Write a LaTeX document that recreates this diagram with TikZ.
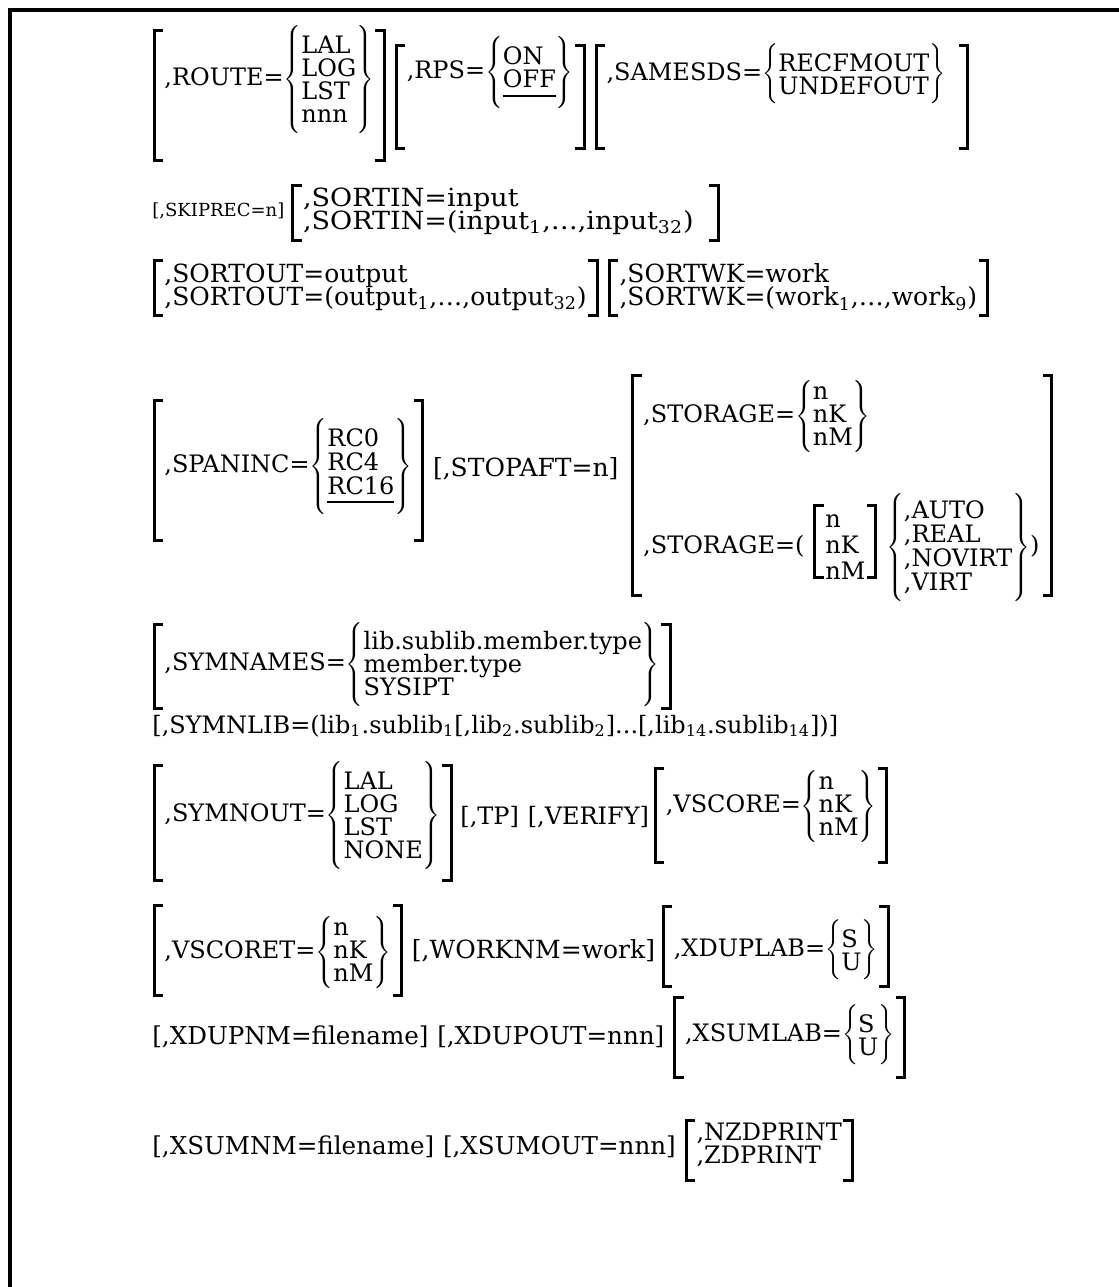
\documentclass[tikz,border=0pt]{standalone}
\usepackage{fontspec}
\usepackage{graphicx}
\setmainfont{DejaVu Serif}
\usetikzlibrary{positioning}

\delimiterfactor=1000
\delimitershortfall=-6pt
\newcommand\choices[2][11.5pt]{\vcenter{\baselineskip=#1\lineskip=0pt\lineskiplimit=-\maxdimen
  \halign{##\hfil\cr#2\crcr}}}
\newcommand\dflt[1]{\sbox0{#1}\rlap{\rule[-4.5pt]{\wd0}{1pt}}\usebox0}
\newcommand\sqbox{%
  \draw[brk] (tl) ++(4.5pt,0) -- (tl) -- (tl |- br) -- ++(4.5pt,0);
  \draw[brk] (br) ++(-4.5pt,0) -- (br) -- (br |- tl) -- ++(-4.5pt,0);}
\newcommand\sqbr[4][0pt]{%
  \path (#2.west |- 0,#3) coordinate (tl);
  \path (#2.east |- 0,#4) ++(#1,0) coordinate (br);
  \sqbox}

\begin{document}
\begin{tikzpicture}[x=0.5pt, y=-0.5pt,
    font=\fontsize{12}{14}\selectfont,
    grp/.style={inner xsep=5pt, inner ysep=0pt, anchor=base west},
    txt/.style={inner sep=0pt, anchor=base west},
    wide/.style={font=\fontsize{12.5}{14}\selectfont},
    plain/.style={font=\fontsize{12.3}{14}\selectfont},
    brk/.style={line width=1.5pt},
    frame/.style={line width=2pt}
]
\useasboundingbox (0,0) rectangle (1119,1287);
\draw[frame] (10,1287) -- (10,10) -- (1119,10);

\node[grp] (route) at (154,85) {,ROUTE=$\left\{\choices{LAL\cr LOG\cr LST\cr nnn}\right\}$};
\sqbr{route}{30}{160}
\node[grp, base right=6pt of route, yshift=3.5pt] (rps) {,RPS=$\left\{\choices{ON\cr \dflt{OFF}}\right\}$};
\sqbr{rps}{45}{148}
\node[grp, base right=6pt of rps, yshift=-1pt] (samesds) {,SAMESDS=$\left\{\choices{RECFMOUT\cr UNDEFOUT}\right\}$};
\sqbr[6pt]{samesds}{45}{148}

\node[txt, font=\fontsize{9}{11}\selectfont] (skiprec) at (152,216) {[,SKIPREC=n]};
\node[grp, wide, base right=4pt of skiprec, yshift=-0.5pt] (sortin) {\scalebox{1.08}[1]{$\choices{,SORTIN=input\cr ,SORTIN=(input\textsubscript{1},…,input\textsubscript{32})}$}};
\sqbr[7pt]{sortin}{185}{240}

\node[grp, wide] (sortout) at (154,293) {$\choices{,SORTOUT=output\cr ,SORTOUT=(output\textsubscript{1},…,output\textsubscript{32})}$};
\sqbr{sortout}{260}{315}
\node[grp, wide, base right=6pt of sortout] (sortwk) {$\choices{,SORTWK=work\cr ,SORTWK=(work\textsubscript{1},…,work\textsubscript{9})}$};
\sqbr{sortwk}{260}{315}

\node[grp] (spaninc) at (154,472) {,SPANINC=$\left\{\choices[12pt]{RC0\cr RC4\cr \dflt{RC16}}\right\}$};
\sqbr{spaninc}{400}{540}
\node[txt, wide, base right=5pt of spaninc, yshift=-2pt] (stopaft) {[,STOPAFT=n]};
\node[grp] (stor1) at ([xshift=7pt,yshift=27pt]stopaft.base east) {,STORAGE=$\left\{\choices{n\cr nK\cr nM}\right\}$};
\node[grp] (stor2a) at ([yshift=-65.5pt]stor1.base west) {,STORAGE=(};
\node[grp, base right=0pt of stor2a] (stor2b) {$\choices[13pt]{n\cr nK\cr nM}$};
\sqbr{stor2b}{505}{577}
\node[grp, base right=0pt of stor2b] (stor2c) {$\left\{\choices[12pt]{,AUTO\cr ,REAL\cr ,NOVIRT\cr ,VIRT}\right\}$)};
\path (stor1.west |- 0,375) coordinate (tl);
\path (stor2c.east |- 0,595) ++(1pt,0) coordinate (br);
\sqbox

\node[grp] (symnames) at (154,670) {,SYMNAMES=$\left\{\choices{lib.sublib.member.type\cr member.type\cr SYSIPT}\right\}$};
\sqbr{symnames}{624}{708}

\node[txt] (symnlib) at (152,733) {[,SYMNLIB=(lib\textsubscript{1}.sublib\textsubscript{1}[,lib\textsubscript{2}.sublib\textsubscript{2}]...[,lib\textsubscript{14}.sublib\textsubscript{14}])]};

\node[grp] (symnout) at (154,821) {,SYMNOUT=$\left\{\choices{LAL\cr LOG\cr LST\cr NONE}\right\}$};
\sqbr{symnout}{765}{880}
\node[txt, base right=4.5pt of symnout, yshift=-1.5pt] (tp) {[,TP]};
\node[txt, base right=4pt of tp] (verify) {[,VERIFY]};
\node[grp, base right=3pt of verify, yshift=6pt] (vscore) {,VSCORE=$\left\{\choices{n\cr nK\cr nM}\right\}$};
\sqbr{vscore}{768}{862}

\node[grp] (vscoret) at (154,958) {,VSCORET=$\left\{\choices{n\cr nK\cr nM}\right\}$};
\sqbr{vscoret}{905}{995}
\node[txt, wide, base right=5pt of vscoret] (worknm) {[,WORKNM=work]};
\node[grp, base right=4pt of worknm, yshift=1pt] (xduplab) {,XDUPLAB=$\left\{\choices{S\cr U}\right\}$};
\sqbr{xduplab}{906}{986}

\node[txt, plain] (xdupnm) at (152,1044) {[,XDUPNM=filename]};
\node[txt, plain, base right=4pt of xdupnm] (xdupout) {[,XDUPOUT=nnn]};
\node[grp, base right=5pt of xdupout, yshift=1.5pt] (xsumlab) {,XSUMLAB=$\left\{\choices{S\cr U}\right\}$};
\sqbr{xsumlab}{997}{1077}

\node[txt, plain] (xsumnm) at (152,1154) {[,XSUMNM=filename]};
\node[txt, plain, base right=4pt of xsumnm] (xsumout) {[,XSUMOUT=nnn]};
\node[grp, base right=5pt of xsumout, yshift=1.5pt] (nzdprint) {$\choices{,NZDPRINT\cr ,ZDPRINT}$};
\sqbr{nzdprint}{1120}{1180}
\end{tikzpicture}
\end{document}
